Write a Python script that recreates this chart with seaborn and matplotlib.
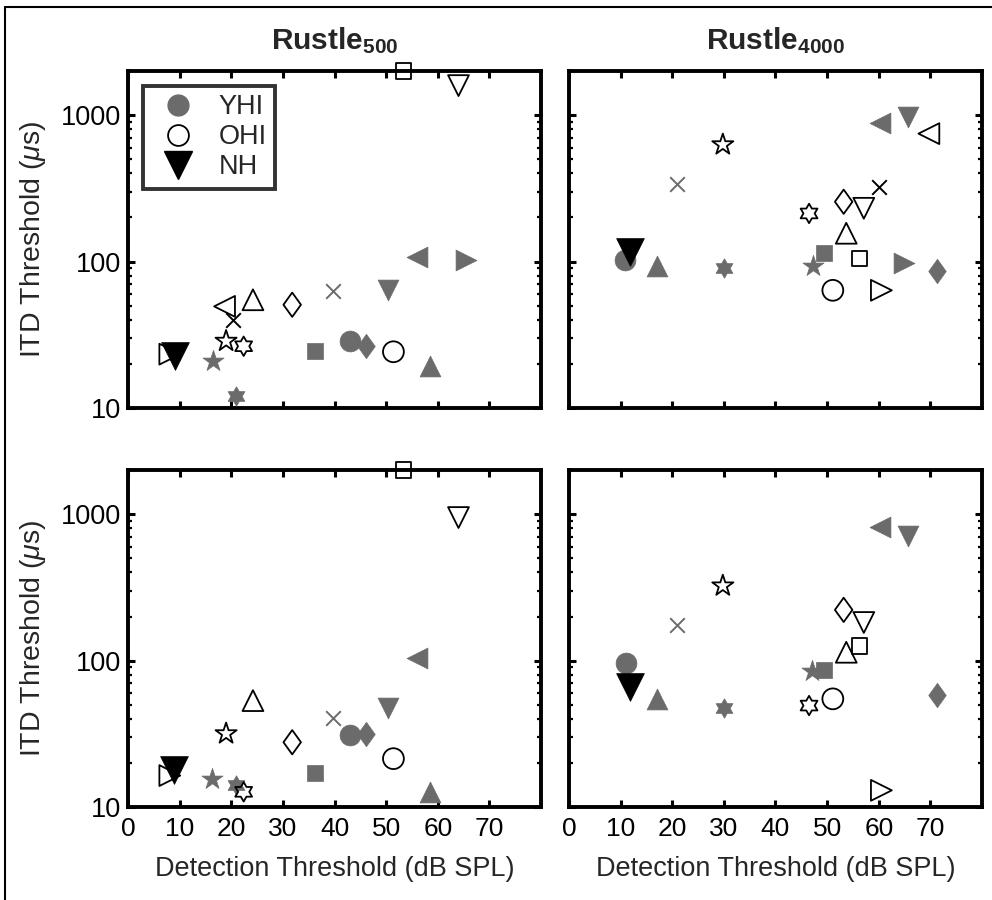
"""
ITD threshold vs detection threshold for the two rustle stimuli.
Four panels: Rustle500 / Rustle4000, two conditions (rows).
"""
import numpy as np
import pandas as pd
import matplotlib
matplotlib.use('Agg')
import matplotlib.pyplot as plt
from matplotlib.path import Path
from matplotlib.lines import Line2D
from matplotlib.ticker import LogLocator, NullFormatter, FixedLocator
import seaborn as sns

sns.set_style('ticks')
plt.rcParams['font.family'] = ['Liberation Sans', 'DejaVu Sans']
plt.rcParams['mathtext.fontset'] = 'custom'
plt.rcParams['mathtext.rm'] = 'Liberation Sans'
plt.rcParams['mathtext.it'] = 'Liberation Sans:italic'
plt.rcParams['mathtext.bf'] = 'Liberation Sans:bold'

# one marker per listener (same marker for the same listener in every panel)
subjects = ['o', 'x', 's', 'd', '^', 'v', '>', '<', 'p', 'h']
nan = np.nan

# ---- Rustle500, top row
r500_top_yhi_x = [42.9, 39.7, 36.3, 46.1, 58.4, 50.3, 65.5, 56.0, 16.4, 21.0]
r500_top_yhi_y = [28.6, 63, 24.4, 26.4, 19.3, 64, 103, 108, 21, 12.1]
r500_top_ohi_x = [51.4, 20.4, 53.4, 31.8, 24.2, 64.0, 8.1, 18.7, 19.0, 22.4]
r500_top_ohi_y = [24.2, 40.1, 2000, 50.7, 54.8, 1590, 23.3, 49.4, 28.6, 26.4]
r500_top_nh = (9.2, 22.6)

# ---- Rustle4000, top row
r4000_top_yhi_x = [10.8, 21.0, 49.4, 71.3, 17.0, 65.7, 64.8, 60.2, 47.2, 30.1]
r4000_top_yhi_y = [103, 341, 114, 86.5, 92.5, 968, 97, 883, 92.5, 90]
r4000_top_ohi_x = [51.1, 60.0, 56.3, 53.2, 53.7, 57.1, 60.5, 69.7, 29.8, 46.5]
r4000_top_ohi_y = [63.6, 324, 105, 256, 156, 231, 63.6, 747, 628, 213]
r4000_top_nh = (11.9, 117)

# ---- Rustle500, bottom row
r500_bot_yhi_x = [42.9, 39.7, 36.3, 46.1, 58.4, 50.3, nan, 56.0, 16.3, 21.0]
r500_bot_yhi_y = [30.8, 40.6, 17.1, 31.7, 12.7, 47.6, nan, 104, 15.6, 14.1]
r500_bot_ohi_x = [51.4, nan, 53.4, 31.8, 24.2, 64.0, 8.1, nan, 19.0, 22.4]
r500_bot_ohi_y = [21.4, nan, 2000, 27.7, 53.3, 948, 16.4, nan, 31.7, 12.7]
r500_bot_nh = (9.0, 17.8)

# ---- Rustle4000, bottom row
r4000_bot_yhi_x = [11.0, 21.0, 49.4, 71.3, 17.0, 65.7, nan, 60.2, 47.1, 30.1]
r4000_bot_yhi_y = [96, 176, 86.5, 58.4, 54.8, 711, nan, 819, 84.6, 47.6]
r4000_bot_ohi_x = [51.1, nan, 56.3, 53.2, 53.7, 57.1, 60.5, nan, 29.8, 46.5]
r4000_bot_ohi_y = [54.8, nan, 126, 222, 114, 182, 13.0, nan, 324, 49.3]
r4000_bot_nh = (11.9, 65.8)

titles = ['500', '4000']
x_ticks = [0, 10, 20, 30, 40, 50, 60, 70]
y_ticks = [10, 100, 1000]

GRAY = '#6b6b6b'

# matlab-like marker shapes
hexagram = Path.unit_regular_star(6, 0.577)
diamond = Path([(0, 1), (0.72, 0), (0, -1), (-0.72, 0), (0, 1)],
               [Path.MOVETO, Path.LINETO, Path.LINETO, Path.LINETO, Path.CLOSEPOLY])
mpl_marker = {'o': 'o', 'x': 'x', 's': 's', 'd': diamond, '^': '^', 'v': 'v',
              '>': '>', '<': '<', 'p': '*', 'h': hexagram}
msize = {'o': 15, 'x': 10.5, 's': 11, 'd': 17.5, '^': 15, 'v': 15,
         '>': 15, '<': 15, 'p': 16, 'h': 14}


def make_frame(yhi_x, yhi_y, ohi_x, ohi_y):
    df = pd.DataFrame({
        'x': yhi_x + ohi_x,
        'y': yhi_y + ohi_y,
        'group': ['YHI'] * len(subjects) + ['OHI'] * len(subjects),
        'subject': subjects * 2,
    })
    return df.dropna()


panels = [
    (make_frame(r500_top_yhi_x, r500_top_yhi_y, r500_top_ohi_x, r500_top_ohi_y), r500_top_nh),
    (make_frame(r4000_top_yhi_x, r4000_top_yhi_y, r4000_top_ohi_x, r4000_top_ohi_y), r4000_top_nh),
    (make_frame(r500_bot_yhi_x, r500_bot_yhi_y, r500_bot_ohi_x, r500_bot_ohi_y), r500_bot_nh),
    (make_frame(r4000_bot_yhi_x, r4000_bot_yhi_y, r4000_bot_ohi_x, r4000_bot_ohi_y), r4000_bot_nh),
]

fig = plt.figure(figsize=(9.92, 9.0), dpi=100)
lefts = [0.129, 0.5735]
bottoms = [0.5467, 0.1033]
W, H = 0.4165, 0.3744


def draw_points(ax, df, nh):
    for grp in ['YHI', 'OHI']:
        sub = df[df['group'] == grp]
        for s in subjects:
            pts = sub[sub['subject'] == s]
            if pts.empty:
                continue
            m = mpl_marker[s]
            kw = dict(x=pts['x'].values, y=pts['y'].values, ax=ax, marker=m,
                      s=msize[s] ** 2, clip_on=False, zorder=4, legend=False)
            if s == 'x':
                c = GRAY if grp == 'YHI' else 'black'
                sns.scatterplot(color=c, linewidth=1.4, **kw)
            elif grp == 'YHI':
                sns.scatterplot(color=GRAY, edgecolor=GRAY, linewidth=0.5, **kw)
            else:
                sns.scatterplot(color='black', facecolor='none', edgecolor='black',
                                linewidth=1.3, **kw)
    sns.scatterplot(x=[nh[0]], y=[nh[1]], ax=ax, marker='v', s=20 ** 2,
                    color='black', edgecolor='black', linewidth=0.5,
                    clip_on=False, zorder=5, legend=False)


axes = []
for i, (df, nh) in enumerate(panels):
    row, col = divmod(i, 2)
    ax = fig.add_axes([lefts[col], bottoms[row], W, H])
    axes.append(ax)
    ax.set_yscale('log')
    draw_points(ax, df, nh)
    ax.set_xlim(0, 80)
    ax.set_ylim(10, 2000)
    ax.xaxis.set_major_locator(FixedLocator(x_ticks))
    ax.yaxis.set_major_locator(FixedLocator(y_ticks))
    ax.yaxis.set_minor_locator(LogLocator(base=10, subs=np.arange(2, 10)))
    ax.yaxis.set_minor_formatter(NullFormatter())
    ax.set_yticklabels([str(t) for t in y_ticks])
    ax.tick_params(which='both', direction='in', top=True, right=True,
                   colors='black')
    ax.tick_params(axis='y', labelsize=19.5, pad=5)
    ax.tick_params(axis='x', labelsize=19, pad=7)
    ax.tick_params(which='major', length=5, width=2.2)
    ax.tick_params(which='minor', length=3, width=1.6)
    for sp in ax.spines.values():
        sp.set_linewidth(2.8)
        sp.set_color('black')
    ax.set_xlabel('')
    ax.set_ylabel('')
    if row == 0:
        ax.tick_params(axis='x', labelbottom=False)
        ax.set_title(r'$\mathbf{Rustle}_{\mathbf{%s}}$' % titles[col], fontsize=21.5, pad=16)
    else:
        ax.set_xlabel('Detection Threshold (dB SPL)', fontsize=19.5, labelpad=11)
    if col == 1:
        ax.tick_params(axis='y', labelleft=False)
    else:
        ax.set_ylabel(r'ITD Threshold ($\mu$s)', fontsize=20.5, labelpad=9)

# legend in the upper-left panel
handles = [
    Line2D([], [], ls='none', marker='o', ms=15, mfc=GRAY, mec=GRAY),
    Line2D([], [], ls='none', marker='o', ms=15, mfc='none', mec='black', mew=1.3),
    Line2D([], [], ls='none', marker='v', ms=20, mfc='black', mec='black'),
]
leg = axes[0].legend(handles, ['YHI', 'OHI', 'NH'], loc='upper left',
                     bbox_to_anchor=(0.036, 0.955), borderaxespad=0, fontsize=19.5,
                     frameon=True, fancybox=False, handletextpad=0.5,
                     labelspacing=0.15, borderpad=0.3, handlelength=2.0)
leg.get_frame().set_edgecolor('black')
leg.get_frame().set_linewidth(2.8)
leg.set_zorder(6)

# frame lines of the original figure (top and left only)
fig.add_artist(Line2D([5 / 992, 1], [1 - 7 / 900, 1 - 7 / 900], color='black', lw=1.5))
fig.add_artist(Line2D([5 / 992, 5 / 992], [0, 1 - 7 / 900], color='black', lw=1.5))

fig.savefig('out.png', dpi=100)
